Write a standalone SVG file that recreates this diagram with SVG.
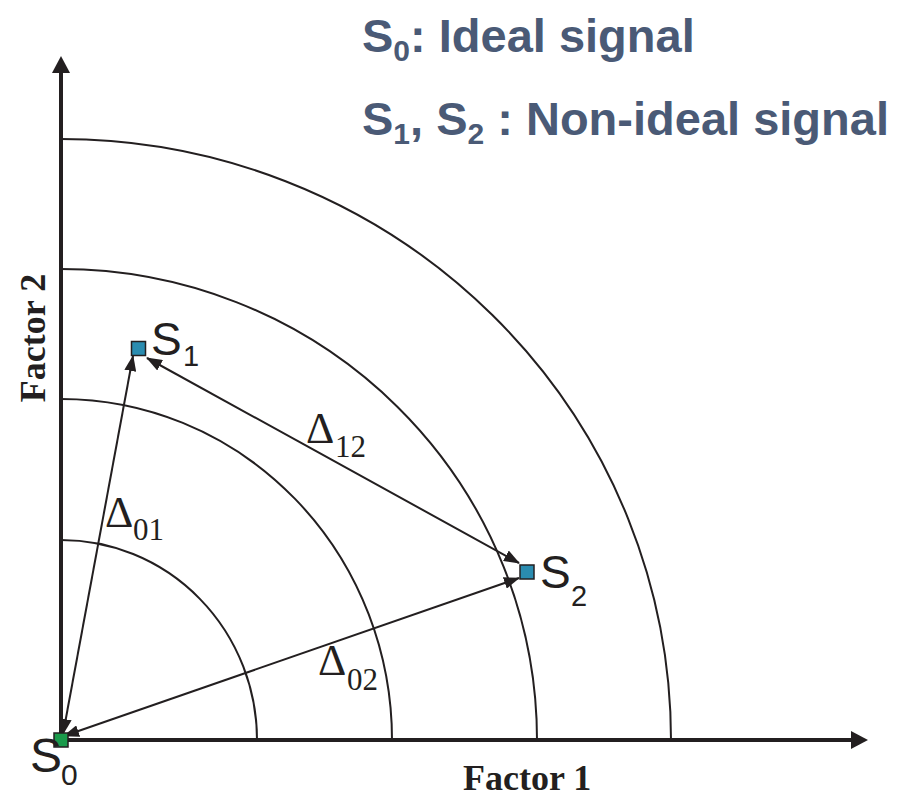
<svg xmlns="http://www.w3.org/2000/svg" width="903" height="799" viewBox="0 0 903 799">
<style>
.arc{fill:none;stroke:#231f20;stroke-width:2}
.axis{fill:none;stroke:#231f20;stroke-width:4}
.vec{fill:none;stroke:#231f20;stroke-width:2}
.lab{font-family:"Liberation Sans",Arial,sans-serif;fill:#231f20}
.dl{font-family:"Liberation Serif","Times New Roman",serif;fill:#231f20}
.fac{font-family:"Liberation Serif","Times New Roman",serif;font-weight:bold;font-size:36px;fill:#231f20}
.title{font-family:"Liberation Sans",Arial,sans-serif;font-weight:bold;font-size:47px;fill:#4a5a76}
.pt{stroke:#231f20;stroke-width:1.5}
</style>
<defs>
<marker id="ah" viewBox="0 0 16 12" markerWidth="16" markerHeight="12" refX="15" refY="6" orient="auto-start-reverse" markerUnits="userSpaceOnUse">
<path d="M0,0 L16,6 L0,12 z" fill="#231f20"/>
</marker>
</defs>
<rect width="903" height="799" fill="#ffffff"/>
<g id="arcs">
<path class="arc" d="M257 740 A196 200 0 0 0 61 540"/>
<path class="arc" d="M392 740 A331 341 0 0 0 61 399"/>
<path class="arc" d="M537 740 A476 471 0 0 0 61 269"/>
<path class="arc" d="M671 740 A610 601 0 0 0 61 139"/>
</g>
<g id="axes">
<line class="axis" x1="61" y1="742" x2="61" y2="70"/>
<polygon points="52,73 61,56 70,73" fill="#231f20"/>
<line class="axis" x1="59" y1="740" x2="853" y2="740"/>
<polygon points="851,731 868,740 851,749" fill="#231f20"/>
</g>
<g id="connectors">
<line class="vec" x1="63" y1="734" x2="133" y2="356" marker-start="url(#ah)" marker-end="url(#ah)"/>
<line class="vec" x1="147" y1="358" x2="519" y2="563" marker-start="url(#ah)" marker-end="url(#ah)"/>
<line class="vec" x1="64" y1="736" x2="519" y2="578" marker-start="url(#ah)" marker-end="url(#ah)"/>
</g>
<g id="S0">
<rect class="pt" x="54" y="733" width="14" height="14" fill="#1a9b4b"/>
<text class="lab" x="30" y="772" font-size="48">S</text>
<text class="lab" x="61" y="785" font-size="30">0</text>
</g>
<g id="S1">
<rect class="pt" x="131.5" y="341.5" width="14" height="14" fill="#2a8cb0"/>
<text class="lab" x="151" y="355" font-size="46">S</text>
<text class="lab" x="183" y="366" font-size="29">1</text>
</g>
<g id="S2">
<rect class="pt" x="520" y="565" width="14" height="14" fill="#2a8cb0"/>
<text class="lab" x="540" y="588" font-size="46">S</text>
<text class="lab" x="571" y="606" font-size="29">2</text>
</g>
<g id="labels">
<text class="dl" x="105" y="527" font-size="44">Δ</text>
<text class="dl" x="133" y="540" font-size="31">01</text>
<text class="dl" x="306" y="443" font-size="44">Δ</text>
<text class="dl" x="335" y="457" font-size="31">12</text>
<text class="dl" x="318" y="675" font-size="44">Δ</text>
<text class="dl" x="347" y="690" font-size="31">02</text>
<text class="fac" x="463" y="790">Factor 1</text>
<text class="fac" transform="translate(45,338) rotate(-90)" text-anchor="middle">Factor 2</text>
</g>
<g id="legend">
<text class="title" x="362" y="52">S<tspan font-size="30" dy="9">0</tspan><tspan dy="-9">: Ideal signal</tspan></text>
<text class="title" x="362" y="135">S<tspan font-size="30" dy="9">1</tspan><tspan dy="-9">, S</tspan><tspan font-size="30" dy="9">2</tspan><tspan dy="-9"> : Non-ideal signal</tspan></text>
</g>
</svg>
